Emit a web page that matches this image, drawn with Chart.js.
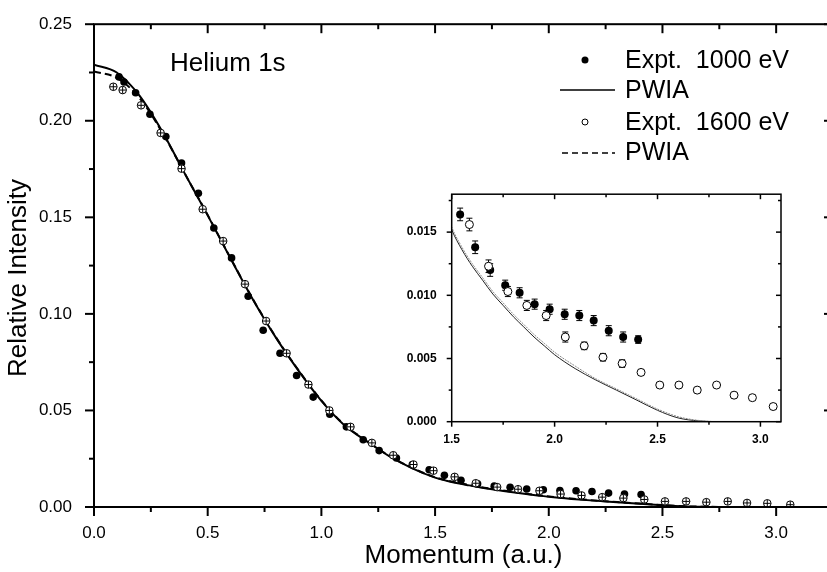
<!DOCTYPE html>
<html><head><meta charset="utf-8">
<script src="https://cdn.jsdelivr.net/npm/chart.js@4.4.1/dist/chart.umd.min.js"></script>
<style>
html,body{margin:0;padding:0;background:#fff;overflow:hidden;width:827px;height:572px;}
#main{position:absolute;left:0;top:0;width:841px;height:572px;}
#inset{position:absolute;left:390px;top:180px;width:400px;height:270px;}
</style></head><body>
<div id="main"><canvas id="c1"></canvas></div>
<div id="inset"><canvas id="c2"></canvas></div>
<script>
const FONT = '"Liberation Sans", Arial, Helvetica, sans-serif';

// ---- data ----
const x1000 = [0.110,0.132,0.183,0.246,0.316,0.385,0.459,0.527,0.605,0.678,0.744,0.818,0.891,0.964,1.037,1.110,1.184,1.254,1.330,1.400,1.474,
               1.541,1.614,1.687,1.760,1.830,1.903,1.976,2.049,2.120,2.190,2.263,2.333,2.406];
const y1000 = [0.2227,0.2201,0.2145,0.2034,0.1918,0.1781,0.1624,0.1445,0.1290,0.1091,0.0915,0.0796,0.0681,0.0569,0.0480,0.0415,0.0348,0.0292,0.0254,0.0220,0.0193,
               0.0164,0.0138,0.0120,0.0108,0.0102,0.0093,0.0089,0.0085,0.0084,0.0080,0.0072,0.0067,0.0065];
const e1000 = [0.0008,0.0008,0.0008,0.0008,0.0008,0.0008,0.0008,0.0008,0.0007,0.0007,0.0007,0.0006,0.0006,0.0006,0.0005,0.0005,0.0005,0.0005,0.0005,0.0005,0.0005,
               0.0005,0.0005,0.0005,0.0004,0.0004,0.0004,0.0004,0.0004,0.0004,0.0004,0.0004,0.0004,0.0003];

const x1600 = [0.085,0.126,0.207,0.293,0.385,0.478,0.568,0.664,0.757,0.847,0.943,1.035,1.128,1.222,1.316,1.405,1.493,
               1.586,1.679,1.773,1.865,1.959,2.052,2.144,2.235,2.328,2.420,2.511,2.604,2.693,2.787,2.872,2.961,3.062];
const y1600 = [0.2176,0.2159,0.2080,0.1937,0.1752,0.1542,0.1377,0.1154,0.0963,0.0796,0.0634,0.0500,0.0415,0.0332,0.0268,0.0220,0.0188,
               0.0156,0.0123,0.0103,0.0092,0.0084,0.0067,0.0060,0.0051,0.0046,0.0039,0.0029,0.0029,0.0025,0.0029,0.0021,0.0019,0.0012];
const e1600 = [0.0008,0.0008,0.0008,0.0008,0.0008,0.0008,0.0007,0.0007,0.0007,0.0006,0.0006,0.0006,0.0005,0.0005,0.0005,0.0005,0.0005,
               0.0005,0.0005,0.0004,0.0004,0.0004,0.0004,0.0003,0.0003,0.0003,0.0002,0.0002,0.0002,0.0002,0.0002,0.0002,0.0002,0.0002];

const pwiaX     = [0,0.1,0.2,0.3,0.4,0.5,0.6,0.7,0.8,0.9,1.0,1.1,1.2,1.3,1.4,1.5,1.55,1.6,1.65,1.7,1.75,1.8,1.85,1.9,1.95,2.0,2.1,2.2,2.3,2.4,2.5,2.6,2.7,2.78];
const pwiaSolid = [0.2290,0.2250,0.2130,0.1945,0.1725,0.1510,0.1288,0.1072,0.0877,0.0705,0.0550,0.0425,0.0340,0.0262,0.0200,0.0152,0.0136,0.0123,0.0112,0.0101,0.0092,0.0083,0.0075,0.0067,0.0060,0.0053,0.0042,0.0033,0.0025,0.0017,0.0009,0.0003,0.00006,0];
const pwiaDash  = [0.2255,0.2222,0.2118,0.1940,0.1725,0.1512,0.1290,0.1074,0.0879,0.0707,0.0552,0.0427,0.0342,0.0264,0.0202,0.0154,0.0138,0.0125,0.0114,0.0103,0.0094,0.0085,0.0077,0.0069,0.0062,0.0055,0.0044,0.0034,0.0026,0.0018,0.0010,0.0004,0.0001,0];

const mainXTicks = [0,0.5,1.0,1.5,2.0,2.5,3.0];
const mainXMinor = [0.25,0.75,1.25,1.75,2.25,2.75];
const mainYTicks = [0,0.05,0.10,0.15,0.20,0.25];
const mainYMinor = [0.025,0.075,0.125,0.175,0.225];
const insetXTicks = [1.5,2.0,2.5,3.0];
const insetXMinor = [1.75,2.25,2.75];
const insetYTicks = [0,0.005,0.010,0.015];
const insetYMinor = [0.0025,0.0075,0.0125,0.0175];

const pts = (xs, ys) => xs.map((v, i) => ({x: v, y: ys[i]}));

function frameTicks(cfg) {
  return {
    id: 'frameTicks',
    afterDraw(chart) {
      const {ctx, chartArea: a, scales: {x, y}} = chart;
      ctx.save();
      ctx.strokeStyle = '#000';
      ctx.lineWidth = cfg.lw;
      ctx.strokeRect(a.left, a.top, a.right - a.left, a.bottom - a.top);
      const seg = (x1, y1, x2, y2) => { ctx.beginPath(); ctx.moveTo(x1, y1); ctx.lineTo(x2, y2); ctx.stroke(); };
      const doX = (vals, len) => vals.forEach(v => { const p = x.getPixelForValue(v);
        seg(p, a.bottom, p, a.bottom + len); seg(p, a.top, p, a.top + len); });
      const doY = (vals, len) => vals.forEach(v => { const p = y.getPixelForValue(v);
        seg(a.left - len, p, a.left, p); seg(a.right - len, p, a.right, p); });
      doX(cfg.xMaj, cfg.maj); doX(cfg.xMin, cfg.min);
      doY(cfg.yMaj, cfg.maj); doY(cfg.yMin, cfg.min);
      ctx.restore();
    }
  };
}

// ---- main chart ----
const mainDeco = {
  id: 'mainDeco',
  afterDraw(chart) {
    const {ctx, chartArea: a} = chart;
    ctx.save();
    ctx.fillStyle = '#000';
    ctx.textBaseline = 'middle';
    ctx.font = '26px ' + FONT;
    ctx.textAlign = 'center';
    ctx.fillText('Momentum (a.u.)', (a.left + a.right) / 2, 556);
    ctx.save();
    ctx.translate(19, 278);
    ctx.rotate(-Math.PI / 2);
    ctx.fillText('Relative Intensity', 0, 0);
    ctx.restore();
    ctx.textAlign = 'left';
    ctx.fillText('Helium 1s', 170, 64);
    ctx.font = '25px ' + FONT;
    ctx.fillText('Expt.  1000 eV', 625, 61);
    ctx.fillText('PWIA', 625, 91);
    ctx.fillText('Expt.  1600 eV', 625, 123);
    ctx.fillText('PWIA', 625, 153);
    ctx.beginPath(); ctx.arc(585, 60, 3.5, 0, Math.PI * 2); ctx.fill();
    ctx.strokeStyle = '#000'; ctx.lineWidth = 1;
    ctx.beginPath(); ctx.arc(585, 122, 3, 0, Math.PI * 2); ctx.stroke();
    ctx.lineWidth = 1.5;
    ctx.beginPath(); ctx.moveTo(560, 90); ctx.lineTo(615, 90); ctx.stroke();
    ctx.setLineDash([6, 4]);
    ctx.beginPath(); ctx.moveTo(562, 153); ctx.lineTo(615, 153); ctx.stroke();
    ctx.restore();
  }
};

new Chart(document.getElementById('c1'), {
  type: 'scatter',
  data: {
    datasets: [
      {data: pts(x1600, y1600), pointStyle: 'cross', pointRadius: 3.5, pointBorderColor: '#000', pointBorderWidth: 1, order: 0},
      {data: pts(x1600, y1600), pointStyle: 'circle', pointRadius: 3.8, pointBackgroundColor: '#fff', pointBorderColor: '#000', pointBorderWidth: 1, order: 1},
      {data: pts(x1000, y1000), pointStyle: 'circle', pointRadius: 3.8, pointBackgroundColor: '#000', pointBorderColor: '#000', pointBorderWidth: 0, order: 2},
      {data: pts(pwiaX, pwiaDash), showLine: true, pointRadius: 0, borderColor: '#000', borderWidth: 2, borderDash: [7, 4], tension: 0.4, cubicInterpolationMode: 'monotone', order: 3},
      {data: pts(pwiaX, pwiaSolid), showLine: true, pointRadius: 0, borderColor: '#000', borderWidth: 2, tension: 0.4, cubicInterpolationMode: 'monotone', order: 4}
    ]
  },
  options: {
    responsive: true, maintainAspectRatio: false, animation: false,
    layout: {padding: {top: 19, right: 8, left: 0, bottom: 0}},
    plugins: {legend: {display: false}, tooltip: {enabled: false}},
    scales: {
      x: {
        type: 'linear', min: 0, max: 3.25,
        afterBuildTicks: s => { s.ticks = mainXTicks.map(v => ({value: v})); },
        afterFit: s => { s.height = 65; },
        grid: {display: false}, border: {display: false},
        ticks: {color: '#000', font: {family: FONT, size: 17}, padding: 8, maxRotation: 0,
                callback: v => Number(v).toFixed(1)}
      },
      y: {
        type: 'linear', min: 0, max: 0.25,
        afterBuildTicks: s => { s.ticks = mainYTicks.map(v => ({value: v})); },
        afterFit: s => { s.width = 94; },
        grid: {display: false}, border: {display: false},
        ticks: {color: '#000', font: {family: FONT, size: 17}, padding: 14,
                callback: v => Number(v).toFixed(2)}
      }
    }
  },
  plugins: [frameTicks({lw: 2, maj: 9, min: 5, xMaj: mainXTicks, xMin: mainXMinor, yMaj: mainYTicks, yMin: mainYMinor}), mainDeco]
});

// ---- inset chart ----
const insetBg = {
  id: 'insetBg',
  beforeDraw(chart) {
    const {ctx, chartArea: a} = chart;
    ctx.save(); ctx.fillStyle = '#fff';
    ctx.fillRect(a.left, a.top, a.right - a.left, a.bottom - a.top);
    ctx.restore();
  }
};
const errorBars = {
  id: 'errorBars',
  beforeDatasetsDraw(chart) {
    const {ctx, chartArea: a, scales: {x, y}} = chart;
    ctx.save();
    ctx.beginPath(); ctx.rect(a.left, a.top, a.right - a.left, a.bottom - a.top); ctx.clip();
    ctx.strokeStyle = '#000'; ctx.lineWidth = 1;
    [[x1000, y1000, e1000], [x1600, y1600, e1600]].forEach(([xs, ys, es]) => {
      xs.forEach((xv, i) => {
        const px = x.getPixelForValue(xv);
        const lo = y.getPixelForValue(ys[i] - es[i]);
        const hi = y.getPixelForValue(ys[i] + es[i]);
        ctx.beginPath();
        ctx.moveTo(px, lo); ctx.lineTo(px, hi);
        ctx.moveTo(px - 3, lo); ctx.lineTo(px + 3, lo);
        ctx.moveTo(px - 3, hi); ctx.lineTo(px + 3, hi);
        ctx.stroke();
      });
    });
    ctx.restore();
  }
};

new Chart(document.getElementById('c2'), {
  type: 'scatter',
  data: {
    datasets: [
      {data: pts(x1600, y1600), pointStyle: 'circle', pointRadius: 4, pointBackgroundColor: '#fff', pointBorderColor: '#000', pointBorderWidth: 1, clip: 0, order: 0},
      {data: pts(x1000, y1000), pointStyle: 'circle', pointRadius: 4, pointBackgroundColor: '#000', pointBorderColor: '#000', pointBorderWidth: 0, clip: 0, order: 1},
      {data: pts(pwiaX, pwiaDash), showLine: true, pointRadius: 0, borderColor: '#8a8a8a', borderWidth: 1, borderDash: [2, 1], tension: 0.4, cubicInterpolationMode: 'monotone', clip: 0, order: 2},
      {data: pts(pwiaX, pwiaSolid), showLine: true, pointRadius: 0, borderColor: '#222', borderWidth: 1, tension: 0.4, cubicInterpolationMode: 'monotone', clip: 0, order: 3}
    ]
  },
  options: {
    responsive: true, maintainAspectRatio: false, animation: false,
    layout: {padding: {top: 7.7, right: 9, left: 0, bottom: 0}},
    plugins: {legend: {display: false}, tooltip: {enabled: false}},
    scales: {
      x: {
        type: 'linear', min: 1.5, max: 3.1,
        afterBuildTicks: s => { s.ticks = insetXTicks.map(v => ({value: v})); },
        afterFit: s => { s.height = 28.3; },
        grid: {display: false}, border: {display: false},
        ticks: {color: '#000', font: {family: FONT, size: 12, weight: 'bold'}, padding: 3, maxRotation: 0,
                callback: v => Number(v).toFixed(1)}
      },
      y: {
        type: 'linear', min: 0, max: 0.018,
        afterBuildTicks: s => { s.ticks = insetYTicks.map(v => ({value: v})); },
        afterFit: s => { s.width = 61.7; },
        grid: {display: false}, border: {display: false},
        ticks: {color: '#000', font: {family: FONT, size: 12, weight: 'bold'}, padding: 7,
                callback: v => Number(v).toFixed(3)}
      }
    }
  },
  plugins: [insetBg, errorBars, frameTicks({lw: 1.5, maj: 5, min: 3, xMaj: insetXTicks, xMin: insetXMinor, yMaj: insetYTicks, yMin: insetYMinor})]
});
</script>
</body></html>
